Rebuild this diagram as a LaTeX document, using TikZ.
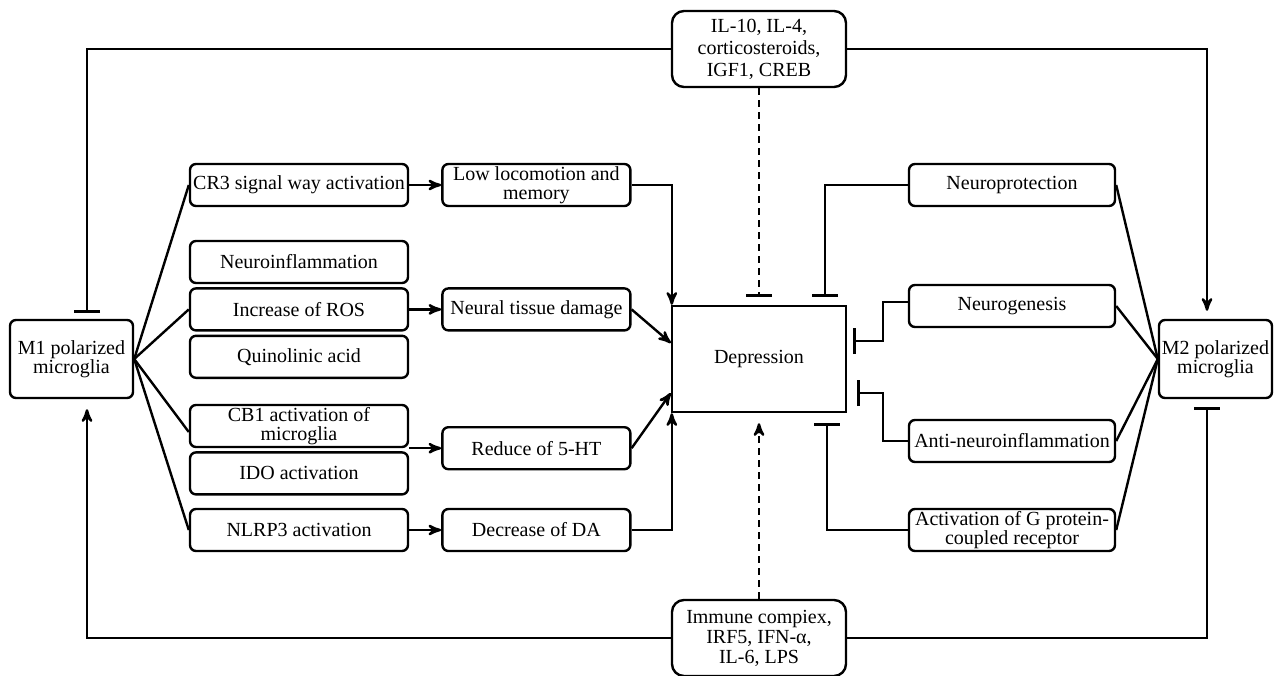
\documentclass[tikz,border=0pt]{standalone}
\usepackage{fontspec}
\setmainfont{Liberation Serif}
\usetikzlibrary{arrows,arrows.meta,positioning}

\begin{document}
\begin{tikzpicture}[x=0.5pt,y=-0.5pt,>=stealth',line width=1.2pt,
		font=\fontsize{10}{9.5}\selectfont,
		base node/.style={draw,rounded corners=3pt,align=center,inner sep=1pt,minimum height=21pt},
		left node/.style={base node,minimum width=109pt},
		mid node/.style={base node,minimum width=94pt},
		right node/.style={base node,minimum width=103pt},
		cell node/.style={base node,minimum width=61.5pt,minimum height=39pt},
		factor node/.style={base node,rounded corners=6pt,minimum width=87pt,minimum height=38pt},
		inhibit/.style={-{Bar[width=13pt]}},
		dash line/.style={dash pattern=on 3.5pt off 2.5pt}]
		
		\useasboundingbox (0,0) rectangle (1274,675);
		
		\node[cell node] (m1) at (71.5,359) {M1 polarized\\microglia};
		\node[cell node,minimum width=56.5pt] (m2) at (1215.5,359) {M2 polarized\\microglia};
		\node[draw,minimum width=87pt,minimum height=53pt] (depr) at (759,359) {Depression};
		\node[factor node,font=\fontsize{10}{11}\selectfont] (ilfac) at (759,49) {IL-10, IL-4,\\corticosteroids,\\IGF1, CREB};
		\node[factor node,font=\fontsize{10}{10}\selectfont] (lpsfac) at (759,638) {Immune compiex,\\IRF5, IFN-α,\\IL-6, LPS};
		
		% M1 side
		\node[left node] (cr3) at (299,185) {CR3 signal way activation};
		\node[left node] (neuroinf) at (299,262) {Neuroinflammation};
		\node[left node,below=1.5pt of neuroinf] (ros) {Increase of ROS};
		\node[left node,below=1.5pt of ros] (quin) {Quinolinic acid};
		\node[left node] (cb1) at (299,426) {CB1 activation of\\microglia};
		\node[left node,below=1.5pt of cb1] (ido) {IDO activation};
		\node[left node] (nlrp3) at (299,530) {NLRP3 activation};
		
		\node[mid node,right=16pt of cr3] (lowloc) {Low locomotion and\\memory};
		\node[mid node,right=16pt of ros] (neural) {Neural tissue damage};
		\node[mid node,right=16pt of cb1.south east] (reduce) {Reduce of 5-HT};
		\node[mid node,right=16pt of nlrp3] (decda) {Decrease of DA};
		
		% M2 side
		\node[right node] (neuroprot) at (1012,185) {Neuroprotection};
		\node[right node] (neurogen) at (1012,306) {Neurogenesis};
		\node[right node] (antiinfl) at (1012,441) {Anti-neuroinflammation};
		\node[right node] (gprot) at (1012,530) {Activation of G protein-\\coupled receptor};
		
		\path
		(m1.east) edge (cr3.west)
		edge (ros.west)
		edge ([yshift=-3pt]cb1.west)
		edge (nlrp3.west)
		(m2.west) edge (neuroprot.east)
		edge (neurogen.east)
		edge (antiinfl.east)
		edge (gprot.east);
		
		\path[->]
		(cr3) edge (lowloc)
		(ros) edge (neural)
		(reduce.west -| cb1.east) edge (reduce)
		(nlrp3) edge (decda)
		(neural.east) edge ([yshift=8pt]depr.west)
		(reduce.east) edge ([yshift=-17pt]depr.west);
		\draw[->] (lowloc.east) -| ([xshift=0.5pt]depr.north west);
		\draw[->] (decda.east) -| ([xshift=0.5pt]depr.south west);
		
		\draw[inhibit,shorten >=3pt] ([yshift=2pt]neurogen.west) -- ++(-25,0) |- ([yshift=9pt]depr.east);
		\draw[inhibit,shorten >=5pt] (antiinfl.west) -- ++(-25,0) |- ([yshift=-17pt]depr.east);
		\draw[inhibit,shorten >=4pt] (neuroprot.west) -| ([xshift=33pt]depr.north);
		\draw[inhibit,shorten >=5pt] (gprot.west) -| ([xshift=34pt]depr.south);
		
		\draw[inhibit,dash line,shorten >=4pt] (ilfac) -- (depr);
		\draw[->,dash line,shorten >=5pt] (lpsfac) -- (depr);
		
		% feedback loops
		\draw[inhibit,shorten >=3pt] (ilfac.west) -| ([xshift=7.75pt]m1.north);
		\draw[->,shorten >=4pt] (ilfac.east) -| ([xshift=-4.25pt]m2.north);
		\draw[->,shorten >=5pt] (lpsfac.west) -| ([xshift=7.75pt]m1.south);
		\draw[inhibit,shorten >=4pt] (lpsfac.east) -| ([xshift=-4.25pt]m2.south);
		
	\end{tikzpicture}
\end{document}
